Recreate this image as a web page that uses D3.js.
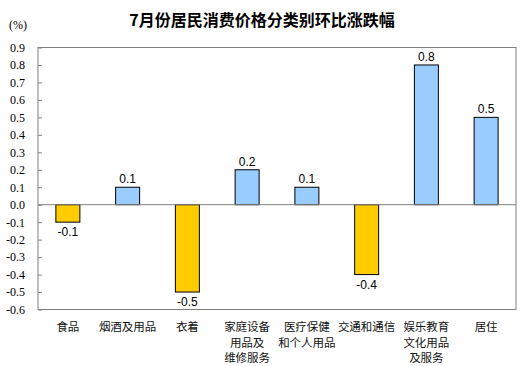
<!DOCTYPE html>
<html><head><meta charset="utf-8">
<script src="https://cdn.jsdelivr.net/npm/d3@7"></script>
<style>body{margin:0;background:#fff}svg{display:block}</style>
</head><body>
<script>
const categories = ["食品","烟酒及用品","衣着","家庭设备\n用品及\n维修服务","医疗保健\n和个人用品","交通和通信","娱乐教育\n文化用品\n及服务","居住"];
const values = [-0.1, 0.1, -0.5, 0.2, 0.1, -0.4, 0.8, 0.5];
const yTicks = [0.9,0.8,0.7,0.6,0.5,0.4,0.3,0.2,0.1,0.0,-0.1,-0.2,-0.3,-0.4,-0.5,-0.6];
const title = "7月份居民消费价格分类别环比涨跌幅";
const unit = "(%)";

const W = 528, H = 366;
const L = 38, R = 516, T = 47.5, B = 309.5;
const svg = d3.select("body").append("svg").attr("width", W).attr("height", H);

const fmt = v => d3.format(".1f")(v).replace("\u2212", "-");

const x = d3.scaleBand().domain(categories).range([L, R]).paddingInner(0).paddingOuter(0);
const y = d3.scaleLinear().domain([-0.6, 0.9]).range([B, T]);
const barW = 24;

// frame
svg.append("rect").attr("x", L).attr("y", T).attr("width", R - L).attr("height", B - T)
  .attr("fill", "none").attr("stroke", "#808080").attr("stroke-width", 1);

// y axis
const yAxis = d3.axisLeft(y).tickValues(yTicks).tickFormat(fmt).tickSize(-4).tickPadding(13);
const ya = svg.append("g").attr("transform", `translate(${L},0)`).call(yAxis);
ya.select(".domain").remove();
ya.selectAll(".tick line").attr("stroke", "#808080");
ya.selectAll(".tick text").attr("font-family", "Liberation Serif, serif").attr("font-size", 12).attr("fill", "#000");

// bars
svg.selectAll("rect.bar").data(values).enter().append("rect").attr("class", "bar")
  .attr("x", (d, i) => x(categories[i]) + x.bandwidth() / 2 - barW / 2)
  .attr("y", d => y(Math.max(0, d)))
  .attr("width", barW)
  .attr("height", d => Math.abs(y(d) - y(0)))
  .attr("fill", d => d < 0 ? "#FFCC00" : "#99CCFF")
  .attr("stroke", "#000").attr("stroke-width", 1);

// zero line
svg.append("line").attr("x1", L).attr("x2", R).attr("y1", y(0)).attr("y2", y(0))
  .attr("stroke", "#808080").attr("stroke-width", 1);

// value labels
svg.selectAll("text.val").data(values).enter().append("text").attr("class", "val")
  .attr("x", (d, i) => x(categories[i]) + x.bandwidth() / 2)
  .attr("y", d => d < 0 ? y(d) + 14 : y(d) - 4)
  .attr("text-anchor", "middle")
  .attr("font-family", "Liberation Sans, Arial, sans-serif").attr("font-size", 12).attr("fill", "#000")
  .text(d => fmt(d));

// category labels
const cl = svg.selectAll("text.cat").data(categories).enter().append("text").attr("class", "cat")
  .attr("x", d => x(d) + x.bandwidth() / 2)
  .attr("y", 331)
  .attr("text-anchor", "middle")
  .attr("font-family", "Noto Sans CJK SC, sans-serif").attr("font-size", 11.5).attr("fill", "#111");
cl.each(function(d) {
  const lines = d.split("\n");
  d3.select(this).selectAll("tspan").data(lines).enter().append("tspan")
    .attr("x", x(d) + x.bandwidth() / 2)
    .attr("dy", (l, i) => i === 0 ? 0 : 15.5)
    .text(l => l);
});

// title
svg.append("text").attr("x", 262).attr("y", 26).attr("text-anchor", "middle")
  .attr("font-family", "Noto Sans CJK SC, sans-serif").attr("font-size", 16).attr("font-weight", "bold")
  .attr("fill", "#000").text(title);

// unit
svg.append("text").attr("x", 9).attr("y", 29)
  .attr("font-family", "Liberation Serif, serif").attr("font-size", 12).attr("fill", "#000").text(unit);
</script>
</body></html>
